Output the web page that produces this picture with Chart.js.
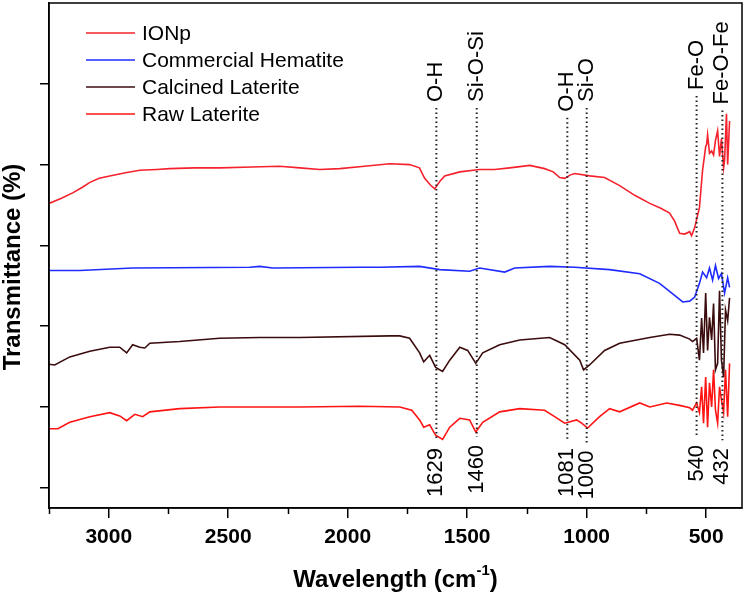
<!DOCTYPE html>
<html>
<head>
<meta charset="utf-8">
<script src="https://cdn.jsdelivr.net/npm/chart.js@4.4.1/dist/chart.umd.min.js"></script>
<style>
  body { margin: 0; background: #fff; }
  #chart { display: block; }
</style>
</head>
<body>
<canvas id="chart" width="745" height="594"></canvas>
<script>
try {

// wavenumber (cm-1) and offset transmittance
const ionpWave = [3250,3200,3151,3110,3079,3040,2996,2930,2870,2800,2745,2640,2536,2400,2285,2200,2117,2033,1930,1824,1741,1700,1678,1655,1636,1615,1594,1531,1448,1385,1322,1238,1176,1140,1113,1092,1070,1050,987,925,862,799,736,690,653,632,611,590,569,561,548,528,515,502,498,494,486,477,469,461,452,444,436,427,423,415,410,402];
const ionpT    = [3.52,3.58,3.65,3.72,3.78,3.83,3.86,3.90,3.93,3.94,3.95,3.96,3.96,3.97,3.98,3.96,3.94,3.95,3.98,4.01,4.00,3.96,3.83,3.75,3.70,3.79,3.86,3.91,3.94,3.94,3.96,3.99,3.95,3.91,3.84,3.83,3.87,3.89,3.86,3.84,3.74,3.62,3.52,3.46,3.40,3.30,3.15,3.14,3.17,3.12,3.22,3.47,3.93,4.22,4.25,4.37,4.14,4.17,4.12,4.30,4.42,4.10,4.32,3.96,4.05,4.63,4.00,4.54];

const hemWave = [3250,3121,2900,2410,2368,2314,1950,1866,1699,1615,1490,1448,1343,1301,1155,1050,904,778,695,632,598,569,548,528,515,498,486,473,461,448,436,423,410,402];
const hemT    = [2.69,2.69,2.72,2.73,2.74,2.72,2.73,2.73,2.74,2.70,2.68,2.72,2.67,2.72,2.74,2.73,2.70,2.65,2.53,2.38,2.30,2.31,2.36,2.53,2.67,2.60,2.72,2.57,2.75,2.59,2.65,2.41,2.60,2.48];

const calWave = [3250,3226,3163,3079,2996,2954,2925,2900,2870,2849,2828,2703,2536,2368,2201,1824,1782,1741,1699,1682,1657,1632,1603,1573,1531,1498,1464,1435,1364,1280,1155,1092,1029,1013,988,925,862,736,653,611,569,557,540,528,519,511,502,494,486,477,469,461,452,444,436,427,419,410,402];
const calT    = [1.53,1.52,1.62,1.69,1.74,1.74,1.67,1.77,1.74,1.73,1.79,1.81,1.85,1.86,1.86,1.88,1.88,1.85,1.67,1.56,1.64,1.49,1.44,1.58,1.74,1.70,1.54,1.67,1.77,1.83,1.86,1.77,1.58,1.46,1.52,1.70,1.79,1.86,1.90,1.89,1.84,1.81,1.85,1.58,2.10,1.67,2.41,1.70,2.11,1.83,2.28,1.46,1.54,2.44,1.58,1.37,2.20,2.07,2.35];

const rawWave = [3250,3213,3163,3079,2996,2954,2925,2891,2858,2828,2703,2536,2201,1950,1782,1732,1699,1682,1657,1632,1603,1573,1531,1490,1464,1435,1364,1280,1176,1134,1092,1042,1021,996,946,904,862,778,736,665,611,569,557,540,528,519,511,502,494,486,477,469,461,452,444,436,427,419,410,402];
const rawT    = [0.73,0.73,0.81,0.88,0.93,0.89,0.83,0.91,0.88,0.94,0.98,1.00,1.00,1.01,1.00,0.96,0.84,0.75,0.78,0.65,0.60,0.75,0.86,0.84,0.69,0.81,0.94,0.98,0.96,0.88,0.80,0.84,0.80,0.74,0.88,0.98,0.94,1.05,1.00,1.05,1.02,0.99,0.96,1.05,0.93,1.25,0.80,1.37,0.75,1.30,1.00,1.46,0.96,0.80,1.25,1.09,0.93,1.46,0.88,1.54];

const seriesNames = ['IONp', 'Commercial Hematite', 'Calcined Laterite', 'Raw Laterite'];

// marked bands
const peakWave  = [1629, 1460, 1081, 1000, 540, 432];
const peakBond  = ['O-H', 'Si-O-Si', 'O-H', 'Si-O', 'Fe-O', 'Fe-O-Fe'];
const peakLabel = ['1629', '1460', '1081', '1000', '540', '432'];

const xMajorTicks = [500, 1000, 1500, 2000, 2500, 3000];
const xMinorTicks = [750, 1250, 1750, 2250, 2750, 3250];
const yTicks = [0, 1, 2, 3, 4, 5];

const FONT = '"Liberation Sans", Arial, sans-serif';

function pts(xs, ys) {
  return xs.map((x, i) => ({ x: x, y: ys[i] }));
}

// extents of each dotted guide line (top, bottom) in y-values
const guideTop    = [4.70, 4.70, 4.58, 4.70, 4.85, 4.67];
const guideBottom = [0.59, 0.63, 0.59, 0.56, 0.63, 0.59];

const decor = {
  id: 'decor',
  afterDraw(chart) {
    const ctx = chart.ctx;
    const a = chart.chartArea;
    const xs = chart.scales.x, ys = chart.scales.y;
    ctx.save();

    // frame
    ctx.strokeStyle = '#000';
    ctx.lineWidth = 1.5;
    ctx.strokeRect(a.left, a.top, a.right - a.left, a.bottom - a.top);

    // minor x ticks
    xMinorTicks.forEach(v => {
      const px = Math.round(xs.getPixelForValue(v)) + 0.5;
      ctx.beginPath();
      ctx.moveTo(px, a.bottom);
      ctx.lineTo(px, a.bottom + 6);
      ctx.stroke();
    });

    // dotted guides + labels
    ctx.fillStyle = '#000';
    ctx.font = '22px ' + FONT;
    ctx.textBaseline = 'middle';
    peakWave.forEach((w, i) => {
      const px = xs.getPixelForValue(w);
      const yt = ys.getPixelForValue(guideTop[i]);
      const yb = ys.getPixelForValue(guideBottom[i]);
      ctx.save();
      ctx.strokeStyle = '#222';
      ctx.lineWidth = 2;
      ctx.setLineDash([1.5, 3]);
      ctx.beginPath();
      ctx.moveTo(px, yt);
      ctx.lineTo(px, yb);
      ctx.stroke();
      ctx.restore();

      ctx.save();
      ctx.translate(px, yt - 6);
      ctx.rotate(-Math.PI / 2);
      ctx.textAlign = 'left';
      ctx.fillText(peakBond[i], 0, 0);
      ctx.restore();

      ctx.save();
      ctx.translate(px, yb + 8);
      ctx.rotate(-Math.PI / 2);
      ctx.textAlign = 'right';
      ctx.fillText(peakLabel[i], 0, 0);
      ctx.restore();
    });

    // legend inside plot
    ctx.font = '21px ' + FONT;
    ctx.textAlign = 'left';
    chart.data.datasets.forEach((ds, i) => {
      const y = 33 + i * 27;
      ctx.strokeStyle = ds.borderColor;
      ctx.lineWidth = 1.5;
      ctx.beginPath();
      ctx.moveTo(86, y);
      ctx.lineTo(135, y);
      ctx.stroke();
      ctx.fillStyle = '#000';
      ctx.fillText(ds.label, 142, y + 1);
    });

    // y title
    ctx.font = 'bold 24px ' + FONT;
    ctx.save();
    ctx.translate(13, 267);
    ctx.rotate(-Math.PI / 2);
    ctx.textAlign = 'center';
    ctx.fillText('Transmittance (%)', 0, 0);
    ctx.restore();

    // x title with superscript
    const main = 'Wavelength (cm';
    ctx.font = 'bold 24px ' + FONT;
    const w1 = ctx.measureText(main).width;
    const w3 = ctx.measureText(')').width;
    ctx.font = 'bold 15px ' + FONT;
    const w2 = ctx.measureText('-1').width;
    const cx = (a.left + a.right) / 2;
    const x0 = cx - (w1 + w2 + w3) / 2;
    const ty = 580;
    ctx.textAlign = 'left';
    ctx.font = 'bold 24px ' + FONT;
    ctx.fillText(main, x0, ty);
    ctx.font = 'bold 15px ' + FONT;
    ctx.fillText('-1', x0 + w1, ty - 9);
    ctx.font = 'bold 24px ' + FONT;
    ctx.fillText(')', x0 + w1 + w2, ty);

    ctx.restore();
  }
};

const lineStyle = { borderWidth: 1.6, pointRadius: 0, tension: 0, fill: false };

new Chart(document.getElementById('chart'), {
  type: 'line',
  data: {
    datasets: [
      Object.assign({ label: seriesNames[0], data: pts(ionpWave, ionpT), borderColor: '#f5222d' }, lineStyle),
      Object.assign({ label: seriesNames[1], data: pts(hemWave, hemT), borderColor: '#1f2bff' }, lineStyle),
      Object.assign({ label: seriesNames[2], data: pts(calWave, calT), borderColor: '#3b0c0e' }, lineStyle),
      Object.assign({ label: seriesNames[3], data: pts(rawWave, rawT), borderColor: '#ff1414' }, lineStyle)
    ]
  },
  options: {
    responsive: false,
    animation: false,
    layout: { padding: { top: 3, right: 3, left: 0, bottom: 0 } },
    plugins: {
      legend: { display: false },
      tooltip: { enabled: false }
    },
    scales: {
      x: {
        type: 'linear',
        reverse: true,
        min: 350,
        max: 3250,
        afterBuildTicks: s => { s.ticks = xMajorTicks.map(v => ({ value: v })); },
        afterFit: s => { s.height = 86; },
        border: { display: true, color: '#000', width: 1.5 },
        grid: { drawOnChartArea: false, drawTicks: true, tickLength: 10, color: '#000', lineWidth: 1.5 },
        ticks: {
          padding: 7,
          maxRotation: 0,
          color: '#000',
          font: { family: FONT, size: 21, weight: 'bold' },
          callback: v => String(v)
        }
      },
      y: {
        min: -0.25,
        max: 6,
        afterBuildTicks: s => { s.ticks = yTicks.map(v => ({ value: v })); },
        afterFit: s => { s.width = 49; },
        border: { display: true, color: '#000', width: 1.5 },
        grid: { drawOnChartArea: false, drawTicks: true, tickLength: 9, color: '#000', lineWidth: 1.5 },
        ticks: { display: false }
      }
    }
  },
  plugins: [decor]
});

} catch (err) {
  console.error(err);
}
</script>
</body>
</html>
